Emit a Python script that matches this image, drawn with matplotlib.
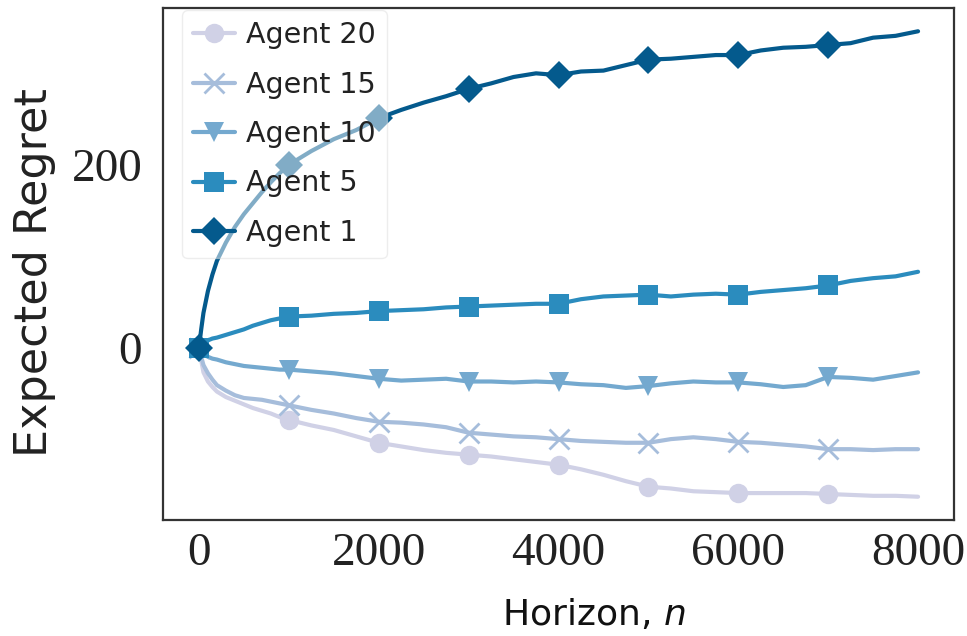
import numpy as np
import matplotlib
matplotlib.use('Agg')
import matplotlib.pyplot as plt

# horizon grid (denser near the start where the curves bend)
horizon = [0, 25, 50, 100, 150, 200, 300, 400, 500, 600, 700, 800, 900, 1000,
           1250, 1500, 1750, 2000, 2250, 2500, 2750, 3000, 3250, 3500, 3750, 4000,
           4250, 4500, 4750, 5000, 5250, 5500, 5750, 6000, 6250, 6500, 6750, 7000,
           7250, 7500, 7750, 8000]

agent20 = [0, -14, -27, -37, -43, -48, -54, -58, -62, -66, -69, -72, -76, -79,
           -85, -90, -97, -104, -108, -112, -115, -117, -119, -122, -125, -128,
           -133, -139, -146, -152, -154, -157, -158, -159, -159, -159, -159, -160,
           -161, -162, -162, -163]
agent15 = [0, -10, -19, -28, -35, -41, -47, -52, -55, -56, -57, -59, -61, -63,
           -68, -72, -77, -81, -82, -84, -87, -93, -95, -97, -98, -100,
           -102, -103, -104, -104, -100, -98, -100, -103, -104, -106, -108, -111,
           -111, -112, -111, -111]
agent10 = [0, -4, -7, -10, -12, -13, -16, -18, -20, -21, -22, -23, -24, -24,
           -26, -28, -31, -34, -36, -35, -34, -37, -37, -38, -37, -38,
           -40, -41, -44, -42, -39, -37, -38, -38, -40, -43, -41, -32,
           -33, -35, -31, -27]
agent5 = [0, 3, 5, 8, 10, 11, 14, 17, 20, 24, 27, 30, 32, 34,
          35, 37, 38, 40, 41, 42, 44, 45, 46, 47, 48, 48,
          53, 56, 57, 58, 56, 58, 59, 58, 61, 63, 65, 68,
          73, 76, 78, 83]
agent1 = [0, 20, 38, 62, 80, 95, 115, 132, 146, 158, 170, 181, 191, 200,
          215, 228, 238, 251, 260, 268, 275, 283, 289, 296, 300, 298,
          302, 303, 309, 315, 316, 318, 320, 320, 325, 328, 329, 331,
          333, 339, 341, 346]

labels = ['Agent 20', 'Agent 15', 'Agent 10', 'Agent 5', 'Agent 1']
series = [agent20, agent15, agent10, agent5, agent1]
colors = ['#d0d1e6', '#a6bddb', '#74a9cf', '#2b8cbe', '#045a8d']
markers = ['o', 'x', 'v', 's', 'D']
sizes = [14, 14, 15, 15, 14]

x = np.array(horizon)
mark_idx = list(np.where(np.isin(x, np.arange(0, 8000, 1000)))[0])

fig = plt.figure(figsize=(9.67, 6.36), dpi=100)
ax = fig.add_axes([163/967, 1-520/636, (954-163)/967, (520-8)/636])

for lab, y, c, m, ms in zip(labels, series, colors, markers, sizes):
    ax.plot(x, y, '-', color=c, lw=3, marker=m, markersize=ms, markevery=mark_idx,
            markeredgewidth=2 if m == 'x' else 0, label=lab,
            solid_capstyle='round', solid_joinstyle='round')

for sp in ax.spines.values():
    sp.set_color('#333333')
    sp.set_linewidth(1.6)

ax.set_xticks([0, 2000, 4000, 6000, 8000])
ax.set_yticks([0, 200])
ax.tick_params(axis='both', length=0, labelsize=34, colors='#222222')
ax.tick_params(axis='x', pad=9)
ax.tick_params(axis='y', pad=15)
for t in ax.get_xticklabels() + ax.get_yticklabels():
    t.set_family(['Liberation Serif', 'DejaVu Serif'])

ax.set_ylabel('Expected Regret', fontsize=32, color='#222222', va='center')
ax.yaxis.set_label_coords(-0.163, 0.484)
ax.set_xlabel('Horizon, $n$', fontsize=26, color='#111111', va='baseline')
ax.xaxis.set_label_coords(0.545, -0.205)

leg = ax.legend(loc='upper left', bbox_to_anchor=(0.024, 0.996), borderaxespad=0,
                fontsize=20.5, framealpha=0.5, edgecolor='#dddddd', fancybox=True,
                handlelength=1.45, handletextpad=0.4, labelspacing=0.75, borderpad=0.4)
for t in leg.get_texts():
    t.set_color('#222222')

fig.savefig('out.png', dpi=100)
